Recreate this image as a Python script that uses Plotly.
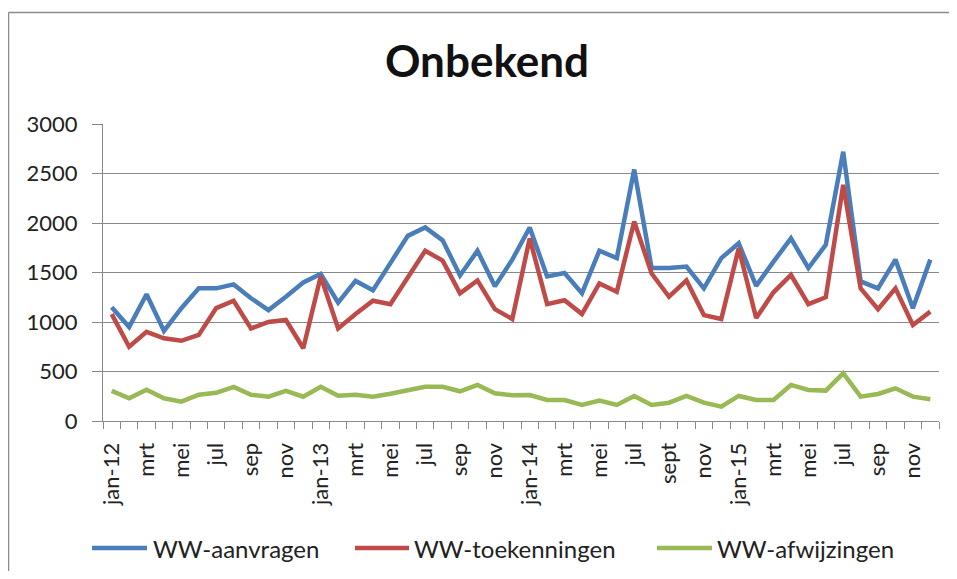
import plotly.graph_objects as go

months = ["jan-12","feb-12","mrt-12","apr-12","mei-12","jun-12","jul-12","aug-12","sep-12","okt-12","nov-12","dec-12",
          "jan-13","feb-13","mrt-13","apr-13","mei-13","jun-13","jul-13","aug-13","sep-13","okt-13","nov-13","dec-13",
          "jan-14","feb-14","mrt-14","apr-14","mei-14","jun-14","jul-14","aug-14","sept-14","okt-14","nov-14","dec-14",
          "jan-15","feb-15","mrt-15","apr-15","mei-15","jun-15","jul-15","aug-15","sep-15","okt-15","nov-15","dec-15"]

tick_labels = ["jan-12","mrt","mei","jul","sep","nov",
               "jan-13","mrt","mei","jul","sep","nov",
               "jan-14","mrt","mei","jul","sept","nov",
               "jan-15","mrt","mei","jul","sep","nov"]

aanvragen = [1150, 950, 1280, 910, 1140, 1340, 1340, 1380, 1240, 1120, 1255, 1400,
             1485, 1195, 1415, 1320, 1595, 1870, 1955, 1825, 1470, 1720, 1360, 1630,
             1955, 1460, 1495, 1290, 1720, 1645, 2540, 1545, 1545, 1560, 1340, 1645,
             1795, 1365, 1610, 1845, 1545, 1780, 2720, 1410, 1340, 1630, 1140, 1630]

toekenningen = [1080, 750, 900, 835, 810, 870, 1140, 1215, 935, 1000, 1020, 735,
                1460, 935, 1080, 1215, 1180, 1445, 1720, 1620, 1290, 1420, 1130, 1030,
                1845, 1180, 1220, 1080, 1390, 1305, 2015, 1490, 1255, 1420, 1070, 1030,
                1745, 1040, 1300, 1475, 1180, 1250, 2385, 1340, 1130, 1340, 970, 1105]

afwijzingen = [305, 230, 315, 230, 195, 265, 285, 345, 265, 245, 305, 245,
               345, 255, 265, 245, 275, 315, 345, 345, 300, 365, 280, 260,
               262, 212, 212, 162, 206, 162, 253, 162, 185, 253, 185, 145,
               253, 212, 212, 364, 313, 307, 482, 246, 273, 330, 246, 219]

series_names = ["WW-aanvragen", "WW-toekenningen", "WW-afwijzingen"]
series_values = [aanvragen, toekenningen, afwijzingen]
series_colors = ["#4A7EBB", "#BE4B48", "#98B954"]

FONT = "Lato"
GRID = "#898989"
TXT = "#222222"
OFF = 8  # page body margin (figure starts at page pixel 8,8)
W, H = 957 - 2 * OFF, 579 - 2 * OFF
# plot area in reference-page pixels: x 103..939, y 124..421
L = 103 - OFF
T = 124 - OFF
R = (W + OFF) - 939
B = (H + OFF) - 421
PW, PH = W - L - R, H - T - B

def px(X):
    return (X - OFF - L) / PW

def py(Y):
    return (H - B - (Y - OFF)) / PH

x_idx = list(range(len(months)))

fig = go.Figure()
for name, vals, col in zip(series_names, series_values, series_colors):
    fig.add_trace(go.Scatter(x=x_idx, y=vals, mode="lines", name=name,
                             line=dict(color=col, width=4.5), showlegend=False,
                             customdata=months, hovertemplate="%{customdata}: %{y}<extra>" + name + "</extra>"))

# custom legend (line samples + text)
leg_y = 548
leg_items = [(92, 147, 151), (355, 409, 412), (657, 712, 715)]
shapes = []
annotations = []
for (x0, x1, xt), name, col in zip(leg_items, series_names, series_colors):
    shapes.append(dict(type="line", xref="paper", yref="paper",
                       x0=px(x0), x1=px(x1), y0=py(leg_y), y1=py(leg_y),
                       line=dict(color=col, width=4.5)))
    annotations.append(dict(text=name, xref="paper", yref="paper", x=px(xt), y=py(leg_y),
                            xanchor="left", yanchor="middle", showarrow=False,
                            font=dict(family=FONT, size=24, color=TXT)))

# chart border (left and top edges visible in the frame), kept inside the figure
shapes.append(dict(type="line", xref="paper", yref="paper", layer="below",
                   x0=px(8.5), x1=px(8.5), y0=py(OFF + H), y1=py(12.5),
                   line=dict(color="#8c8c8c", width=1.5)))
shapes.append(dict(type="line", xref="paper", yref="paper", layer="below",
                   x0=px(8.5), x1=px(OFF + W), y0=py(12.5), y1=py(12.5),
                   line=dict(color="#8c8c8c", width=1.5)))

fig.update_layout(
    width=W, height=H,
    margin=dict(l=L, r=R, t=T, b=B),
    paper_bgcolor="white", plot_bgcolor="white",
    title=dict(text="<b>Onbekend</b>", xref="container", yref="container",
               x=(487 - OFF) / W, y=1 - (62 - OFF) / H, xanchor="center", yanchor="middle",
               font=dict(family=FONT, size=44, color="#111111")),
    font=dict(family=FONT, color=TXT),
    showlegend=False,
    shapes=shapes,
    annotations=annotations,
    xaxis=dict(range=[-0.5, len(months) - 0.5],
               tickvals=x_idx[::2], ticktext=tick_labels, tickangle=-90,
               ticks="", showgrid=False, zeroline=False,
               showline=True, linecolor=GRID, linewidth=1,
               tickfont=dict(family=FONT, size=22, color=TXT),
               ticklabelstandoff=12,
               minor=dict(ticks="outside", tick0=-0.5, dtick=1, ticklen=7,
                          tickcolor=GRID, tickwidth=1, showgrid=False)),
    yaxis=dict(range=[0, 3000], dtick=500, showgrid=True, gridcolor=GRID, gridwidth=1,
               zeroline=False, showline=True, linecolor=GRID, linewidth=1,
               ticks="outside", ticklen=10, tickcolor=GRID,
               ticklabelstandoff=10,
               tickfont=dict(family=FONT, size=22, color=TXT)),
)

fig.write_html("out.html")
